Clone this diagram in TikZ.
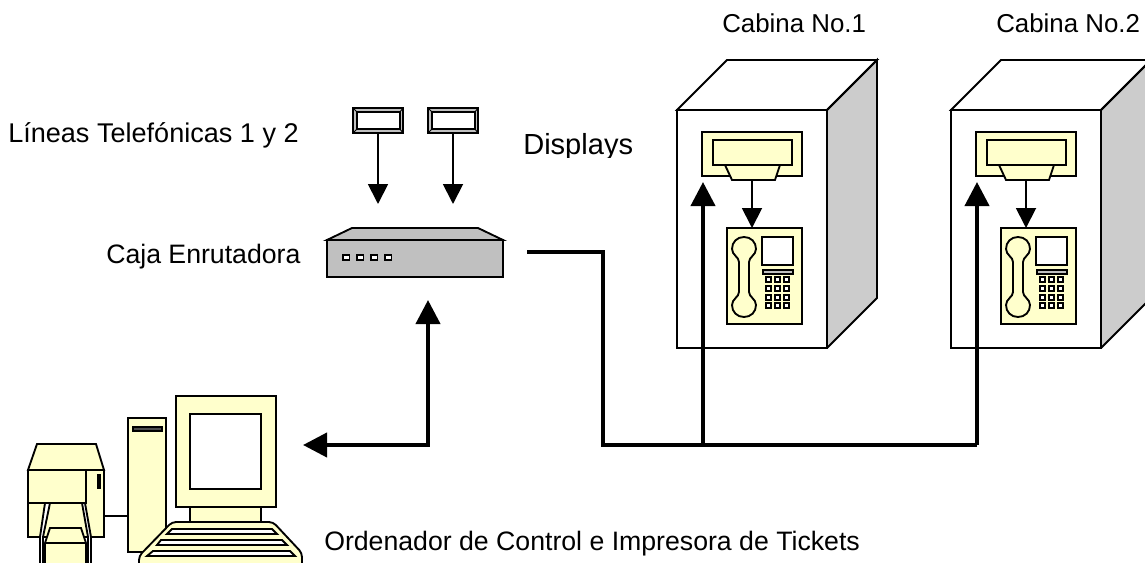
\documentclass[tikz,border=0pt]{standalone}
\usepackage{fontspec}
\setmainfont{Liberation Sans}
\usetikzlibrary{arrows.meta}
\definecolor{paleY}{HTML}{FFFFCC}
\definecolor{sideG}{HTML}{CCCCCC}
\definecolor{routerG}{HTML}{C0C0C0}
\tikzset{
  ln/.style={draw=black,line width=1.4pt,line join=miter},
  yel/.style={ln,fill=paleY},
  box/.style={ln,inner sep=0pt,outer sep=0pt,anchor=north west},
  thin arrow/.style={line width=1.4pt,-{Triangle[length=15pt,width=15pt]}},
  thick arrow/.style={line width=3pt,-{Triangle[length=18pt,width=18pt]}},
  lbl/.style={font=\fontsize{20}{22}\selectfont,inner sep=0pt,anchor=base west,text=black},
  pics/cabin/.style={code={
    \fill[sideG] (150,0) -- (200,-50) -- (200,188) -- (150,238) -- cycle;
    \draw[ln,fill=white] (0,0) rectangle (150,238);
    \draw[ln,fill=white] (0,0) -- (50,-50) -- (200,-50) -- (150,0) -- cycle;
    \draw[ln] (150,0) -- (200,-50) -- (200,188) -- (150,238);
    \node[box,fill=paleY,minimum width=75pt,minimum height=33pt] (-disp) at (25,22) {};
    \draw[ln,fill=paleY] (48,55) -- (103,55) -- (98,70) -- (55,70) -- cycle;
    \draw[ln,fill=paleY] (36,30) rectangle (115,55);
    \coordinate (-dispb) at (75,70);
    \node[box,fill=paleY,minimum width=56.25pt,minimum height=72pt] (-phone) at (50,118) {};
    \coordinate (-phtop) at (75,118);
    \draw[ln,fill=white] (85,127) rectangle (116,155);
    \draw[line width=1.1pt,fill=routerG] (86,160) rectangle (116,164);
    \foreach \kx in {89,98,107} \foreach \ky in {167,176,185,193}
      \draw[line width=1.5pt,fill=white] (\kx,\ky) rectangle ++(5,5);
    \draw[ln,fill=paleY] (62,152)
      .. controls (62,147) and (55,145) .. (55,139)
      .. controls (55,132) and (60,127) .. (67,127)
      .. controls (74,127) and (79,132) .. (79,139)
      .. controls (79,145) and (72,147) .. (72,152)
      -- (72,182)
      .. controls (72,187) and (79,189) .. (79,195)
      .. controls (79,202) and (74,207) .. (67,207)
      .. controls (60,207) and (55,202) .. (55,195)
      .. controls (55,189) and (62,187) .. (62,182)
      -- cycle;
    \draw[thin arrow] (-dispb) -- (-phtop);
  }},
}
\begin{document}
\begin{tikzpicture}[x=.75pt,y=-.75pt]
\useasboundingbox (0,0) rectangle (1145,563);
\clip (0,0) rectangle (1145,563);
\fill[white] (0,0) rectangle (1145,563);
% labels
\node[lbl,font=\fontsize{19.4}{22}\selectfont] (t1) at (722,33) {Cabina No.1};
\node[lbl,font=\fontsize{19.4}{22}\selectfont] (t2) at (996,33) {Cabina No.2};
\node[lbl,font=\fontsize{20.3}{22}\selectfont] (t3) at (8,143) {Líneas Telefónicas 1 y 2};
\node[lbl] (t5) at (106,263) {Caja Enrutadora};
\node[lbl] (t6) at (324,550) {Ordenador de Control e Impresora de Tickets};
\begin{scope}
\clip (515,120) rectangle (640,157.5);
\node[lbl,font=\fontsize{21.8}{22}\selectfont] (t4) at (523,155) {Displays};
\end{scope}
% cabins
\pic (c1) at (677,110) {cabin};
\pic (c2) at (951,110) {cabin};
% line displays
\foreach \n/\x in {a/353,b/428}{
  \node[box,fill=routerG,minimum width=37.5pt,minimum height=18.75pt] (ld\n) at (\x,108) {};
  \draw[line width=1pt,fill=white] (\x+4,112) rectangle (\x+47,129);
  \draw[line width=.7pt] (\x,108) -- (\x+4,112) (\x+50,108) -- (\x+47,112) (\x,133) -- (\x+4,129) (\x+50,133) -- (\x+47,129);
}
% router
\draw[ln,fill=routerG] (352,228) -- (478,228) -- (503,240) -- (327,240) -- cycle;
\node[box,fill=routerG,minimum width=132pt,minimum height=27.75pt] (router) at (327,240) {};
\foreach \x in {343,357,371,385} \draw[line width=1.3pt,fill=white] (\x,255) rectangle ++(6.5,5);
\coordinate (routerTopA) at (378,204);
\coordinate (routerTopB) at (453,204);
\draw[thin arrow] (lda.south) -- (routerTopA);
\draw[thin arrow] (ldb.south) -- (routerTopB);
% backbone
\coordinate (busStart) at (527,252);
\coordinate (busCorner) at (603,252);
\coordinate (busLow) at (603,445);
\coordinate (busEnd) at (977,445);
\coordinate (busMid) at (703,445);
\coordinate (tipA) at (703,182);
\coordinate (tipB) at (977,182);
\draw[line width=3pt,line join=miter] (busStart) -- (busCorner) -- (busLow) -- (busEnd);
\draw[thick arrow] (busMid) -- (tipA);
\draw[thick arrow] (busEnd) -- (tipB);
\coordinate (pcCorner) at (428,445);
\coordinate (pcTip) at (303,445);
\coordinate (rtTip) at (428,300);
\draw[line width=3pt,{Triangle[length=18pt,width=18pt]}-{Triangle[length=18pt,width=18pt]},line join=miter] (pcTip) -- (pcCorner) -- (rtTip);
% printer
\draw[ln] (104,516) -- (128,516);
\draw[yel] (37,444) -- (96,444) -- (104,470) -- (28,470) -- cycle;
\draw[yel] (28,470) rectangle (104,537);
\draw[ln] (86,470) -- (86,503) -- (28,503);
\draw[ln,fill=black] (98,475) rectangle (100,488);
% left and right rails of the paper path
\draw[ln,fill=white] (45,503) -- (40,537) -- (40,570) -- (43,570) -- (43,537) -- (50,503) -- cycle;
\draw[ln,fill=white] (82,503) -- (88,537) -- (88,570) -- (91,570) -- (91,537) -- (85,503) -- cycle;
\draw[yel] (50,528) -- (81,528) -- (86,543) -- (86,570) -- (45,570) -- (45,543) -- cycle;
\draw[ln] (45,543) -- (86,543);
% computer
\draw[yel] (128,418) rectangle (166,552);
\draw[ln,fill=black!70] (133,427) rectangle (162,431);
\draw[yel] (190,507) rectangle (261,524);
\draw[yel] (176,396) rectangle (276,507);
\draw[ln,fill=white] (190,414) rectangle (261,489);
\draw[yel,rounded corners=3pt] (172,522) -- (273,522) -- (302,553) -- (302,575) -- (139,575) -- (139,556) -- cycle;
\draw[ln,fill=white] (172,529) -- (272,529) -- (277,534) -- (167,534) -- cycle;
\draw[ln,fill=white] (161,540) -- (282,540) -- (287,545) -- (157,545) -- cycle;
\draw[ln,fill=white] (153,551) -- (290,551) -- (295,556) -- (147,556) -- cycle;
\end{tikzpicture}
\end{document}
